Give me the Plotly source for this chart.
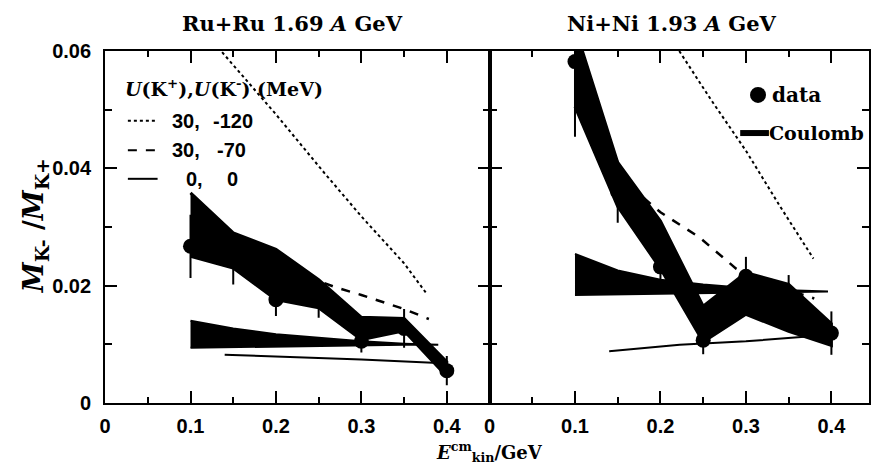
import plotly.graph_objects as go

# ---------------- data ----------------
x_pts = [0.1, 0.15, 0.2, 0.25, 0.3, 0.35, 0.4]

# Ru+Ru 1.69 A GeV
ru_data_y = [0.0267, 0.0245, 0.0176, 0.0177, 0.0105, 0.0127, 0.0055]
ru_data_err = [0.0054, 0.0043, 0.0028, 0.0032, 0.0019, 0.0033, 0.0025]
ru_band_up = [0.0358, 0.0290, 0.0262, 0.0210, 0.0146, 0.0144, 0.0070]
ru_band_lo = [0.0250, 0.0230, 0.0176, 0.0162, 0.0108, 0.0123, 0.0045]
ru_coul_x = [0.1, 0.15, 0.2, 0.25, 0.3, 0.35, 0.39]
ru_coul_up = [0.0140, 0.0127, 0.0117, 0.0111, 0.0105, 0.0101, 0.0099]
ru_coul_lo = [0.0094, 0.0095, 0.0096, 0.0097, 0.0098, 0.0099, 0.0099]
ru_solid_x = [0.14, 0.2, 0.3, 0.39]
ru_solid_y = [0.0082, 0.0079, 0.0074, 0.0068]
ru_dash_x = [0.14, 0.2, 0.241, 0.27, 0.3, 0.35, 0.379]
ru_dash_y = [0.0275, 0.0240, 0.0213, 0.0197, 0.0184, 0.0160, 0.0143]
ru_dot_x = [0.137, 0.2, 0.255, 0.3, 0.35, 0.377]
ru_dot_y = [0.0598, 0.0492, 0.0395, 0.0318, 0.0238, 0.0185]

# Ni+Ni 1.93 A GeV
ni_data_y = [0.0582, 0.0360, 0.0232, 0.0107, 0.0216, 0.0180, 0.0119]
ni_data_err = [0.0128, 0.0053, 0.0022, 0.0024, 0.0033, 0.0038, 0.0037]
ni_band_up = [0.0640, 0.0410, 0.0310, 0.0165, 0.0222, 0.0202, 0.0135]
ni_band_lo = [0.0505, 0.0335, 0.0229, 0.0104, 0.0151, 0.0122, 0.0098]
ni_coul_x = [0.1, 0.15, 0.2, 0.25, 0.3, 0.35, 0.396]
ni_coul_up = [0.0254, 0.0226, 0.0210, 0.0202, 0.0196, 0.0192, 0.0190]
ni_coul_lo = [0.0184, 0.0185, 0.0186, 0.0187, 0.0188, 0.0189, 0.0190]
ni_solid_x = [0.14, 0.2225, 0.3, 0.38]
ni_solid_y = [0.0088, 0.0099, 0.0105, 0.0114]
ni_dash_x = [0.14, 0.18, 0.2, 0.245, 0.2885, 0.3, 0.35, 0.38]
ni_dash_y = [0.0420, 0.0350, 0.0325, 0.0283, 0.0229, 0.0220, 0.0192, 0.0178]
ni_dot_x = [0.222, 0.26, 0.3, 0.34, 0.379]
ni_dot_y = [0.0600, 0.0515, 0.0430, 0.0335, 0.0246]

x_ticks = [0, 0.1, 0.2, 0.3, 0.4]
x_tick_text = ["0", "0.1", "0.2", "0.3", "0.4"]
y_ticks = [0, 0.02, 0.04, 0.06]
y_tick_text = ["0", "0.02", "0.04", "0.06"]

titles = ["Ru+Ru 1.69 <i>A</i> GeV", "Ni+Ni 1.93 <i>A</i> GeV"]
legend_rows = [("30,", "-120"), ("30,", "-70"), ("0,", "0")]

W, H = 871, 473
BLACK = "black"
SERIF = "DejaVu Serif"
SANS = "Liberation Sans"

fig = go.Figure()


def add_panel(xa, ya, data_y, data_err, bup, blo, cx, cup, clo,
              sx, sy, dx, dy, ox, oy):
    # big data band
    fig.add_trace(go.Scatter(
        x=x_pts + x_pts[::-1], y=bup + blo[::-1], xaxis=xa, yaxis=ya,
        mode="lines", fill="toself", fillcolor=BLACK,
        line=dict(color=BLACK, width=3), hoverinfo="skip"))
    # Coulomb wedge
    fig.add_trace(go.Scatter(
        x=cx + cx[::-1], y=cup + clo[::-1], xaxis=xa, yaxis=ya,
        mode="lines", fill="toself", fillcolor=BLACK,
        line=dict(color=BLACK, width=2), hoverinfo="skip"))
    # potential curves
    fig.add_trace(go.Scatter(x=sx, y=sy, xaxis=xa, yaxis=ya, mode="lines",
                             line=dict(color=BLACK, width=2)))
    fig.add_trace(go.Scatter(x=dx, y=dy, xaxis=xa, yaxis=ya, mode="lines",
                             line=dict(color=BLACK, width=2.5, dash="dash")))
    fig.add_trace(go.Scatter(x=ox, y=oy, xaxis=xa, yaxis=ya, mode="lines",
                             line=dict(color=BLACK, width=2, dash="dot")))
    # data points
    fig.add_trace(go.Scatter(
        x=x_pts, y=data_y, xaxis=xa, yaxis=ya, mode="markers",
        marker=dict(color=BLACK, size=15, symbol="circle"),
        error_y=dict(type="data", array=data_err, color=BLACK,
                     thickness=2, width=0)))


add_panel("x", "y", ru_data_y, ru_data_err, ru_band_up, ru_band_lo,
          ru_coul_x, ru_coul_up, ru_coul_lo, ru_solid_x, ru_solid_y,
          ru_dash_x, ru_dash_y, ru_dot_x, ru_dot_y)
add_panel("x2", "y2", ni_data_y, ni_data_err, ni_band_up, ni_band_lo,
          ni_coul_x, ni_coul_up, ni_coul_lo, ni_solid_x, ni_solid_y,
          ni_dash_x, ni_dash_y, ni_dot_x, ni_dot_y)


def px_x(p):
    return p / W


def px_y(p):
    return 1 - p / H


left_dom = [px_x(100), px_x(488)]
right_dom = [px_x(488), 1.0]
y_dom = [px_y(411), px_y(42)]

tickfont = dict(family=SANS, size=20, color=BLACK, weight="bold")
xcommon = dict(range=[0, 0.45], tickvals=x_ticks, ticktext=x_tick_text,
               ticks="inside", ticklen=12, tickwidth=2, tickcolor=BLACK,
               showline=True, linewidth=2, linecolor=BLACK, mirror="ticks",
               showgrid=False, zeroline=False, tickfont=tickfont,
               ticklabelstandoff=4,
               minor=dict(dtick=0.05, tick0=0, ticks="inside", ticklen=6,
                          tickwidth=2, tickcolor=BLACK, showgrid=False))
ycommon = dict(range=[0, 0.06], tickvals=y_ticks, ticktext=y_tick_text,
               ticks="inside", ticklen=12, tickwidth=2, tickcolor=BLACK,
               showline=True, linewidth=2, linecolor=BLACK, mirror="ticks",
               showgrid=False, zeroline=False, tickfont=tickfont,
               ticklabelstandoff=8,
               minor=dict(dtick=0.01, tick0=0, ticks="inside", ticklen=7,
                          tickwidth=2, tickcolor=BLACK, showgrid=False))

fig.update_layout(
    width=W, height=H, margin=dict(l=0, r=0, t=0, b=0),
    paper_bgcolor="white", plot_bgcolor="white", showlegend=False,
    xaxis=dict(domain=left_dom, anchor="y", **xcommon),
    xaxis2=dict(domain=right_dom, anchor="y2",
                **{**xcommon, "range": [0, 0.444]}),
    yaxis=dict(domain=y_dom, anchor="x", **ycommon),
    yaxis2=dict(domain=y_dom, anchor="x2", showticklabels=False, **ycommon),
)

ann = []
# panel titles
for t, cx_ in zip(titles, [289, 672]):
    ann.append(dict(text=t, x=px_x(cx_), y=px_y(13), xref="paper",
                    yref="paper", showarrow=False, xanchor="center",
                    yanchor="middle",
                    font=dict(family=SERIF, size=21, color=BLACK,
                              weight="bold")))
# axis titles
ann.append(dict(text="<i>E</i><sup>cm</sup><sub>kin</sub>/GeV",
                x=px_x(488), y=px_y(462), xref="paper", yref="paper",
                showarrow=False, xanchor="center", yanchor="middle",
                font=dict(family=SERIF, size=18, color=BLACK, weight="bold")))
ann.append(dict(text="<i>M</i><sub>K-</sub> /<i>M</i><sub>K+</sub>",
                x=px_x(30), y=px_y(225), xref="paper", yref="paper",
                showarrow=False, xanchor="center", yanchor="middle",
                textangle=-90,
                font=dict(family=SERIF, size=27, color=BLACK, weight="bold")))
# left legend
ann.append(dict(text="<i>U</i>(K<sup>+</sup>),<i>U</i>(K<sup>-</sup>) (MeV)",
                x=px_x(118), y=px_y(81), xref="paper", yref="paper",
                showarrow=False, xanchor="left", yanchor="middle",
                font=dict(family=SERIF, size=19, color=BLACK, weight="bold")))
row_y = [115, 146, 176]
first_x = [166, 166, 180]
second_x = [207, 211, 221]
for (a, b), ry, fx, sx_ in zip(legend_rows, row_y, first_x, second_x):
    ann.append(dict(text=a, x=px_x(fx), y=px_y(ry), xref="paper",
                    yref="paper", showarrow=False, xanchor="left",
                    yanchor="middle",
                    font=dict(family=SANS, size=20, color=BLACK,
                              weight="bold")))
    ann.append(dict(text=b, x=px_x(sx_), y=px_y(ry), xref="paper",
                    yref="paper", showarrow=False, xanchor="left",
                    yanchor="middle",
                    font=dict(family=SANS, size=20, color=BLACK,
                              weight="bold")))
# right legend
ann.append(dict(text="data", x=px_x(771), y=px_y(88), xref="paper",
                yref="paper", showarrow=False, xanchor="left",
                yanchor="middle",
                font=dict(family=SERIF, size=20, color=BLACK, weight="bold")))
ann.append(dict(text="Coulomb", x=px_x(768), y=px_y(128), xref="paper",
                yref="paper", showarrow=False, xanchor="left",
                yanchor="middle",
                font=dict(family=SERIF, size=19, color=BLACK, weight="bold")))

shapes = []
dashes = ["dot", "dash", "solid"]
for ry, d in zip(row_y, dashes):
    shapes.append(dict(type="line", xref="paper", yref="paper",
                       x0=px_x(123), x1=px_x(153), y0=px_y(ry), y1=px_y(ry),
                       line=dict(color=BLACK, width=2, dash=d)))
shapes.append(dict(type="circle", xref="paper", yref="paper",
                   xsizemode="pixel", ysizemode="pixel",
                   xanchor=px_x(759), yanchor=px_y(88),
                   x0=-8, x1=8, y0=-8, y1=8,
                   fillcolor=BLACK, line=dict(color=BLACK, width=0)))
shapes.append(dict(type="line", xref="paper", yref="paper",
                   x0=px_x(741), x1=px_x(770), y0=px_y(128), y1=px_y(128),
                   line=dict(color=BLACK, width=6)))

fig.update_layout(annotations=ann, shapes=shapes)

fig.write_html("out.html")
